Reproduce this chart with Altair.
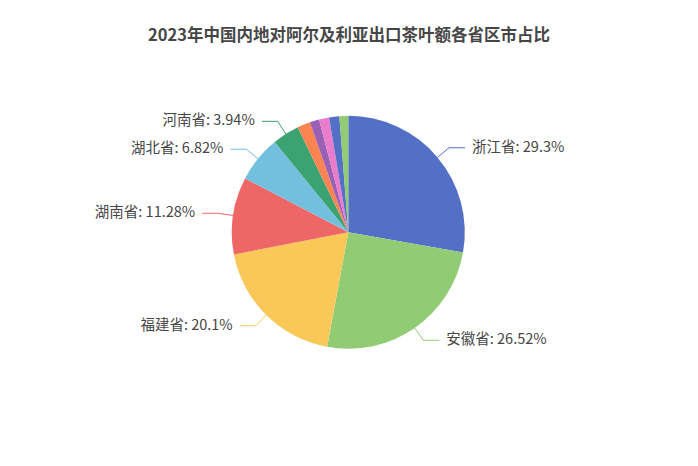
import altair as alt
import pandas as pd

title_text = "2023年中国内地对阿尔及利亚出口茶叶额各省区市占比"
names = ["浙江省", "安徽省", "福建省", "湖南省", "湖北省", "河南省",
         "其他省区市1", "其他省区市2", "其他省区市3", "其他省区市4", "其他省区市5"]
values = [29.3, 26.52, 20.1, 11.28, 6.82, 3.94, 1.9, 1.38, 1.47, 1.5, 1.29]
colors = ["#5470c6", "#91cc75", "#fac858", "#ee6666", "#73c0de", "#3ba272",
          "#fc8452", "#9a60b4", "#ea7ccc", "#5470c6", "#91cc75"]
order = list(range(len(names)))

W, H = 682, 400
CX, CY, R = 340.3, 174.3, 116.5
L1, L2, GAP = 15, 16, 7
FONT = "Noto Sans CJK SC"

df = pd.DataFrame({"name": names, "value": values, "idx": order})
base = alt.Chart(df)

xs = alt.Scale(domain=[0, W], range=[0, W], nice=False, zero=False)
ys = alt.Scale(domain=[0, H], range=[0, H], nice=False, zero=False)
cscale = alt.Scale(domain=names, range=colors)

pie = base.mark_arc(outerRadius=R).encode(
    theta=alt.Theta("value:Q", stack=True),
    order=alt.Order("idx:Q"),
    color=alt.Color("name:N", scale=cscale, legend=None),
    x=alt.value(CX),
    y=alt.value(CY),
)

lab = (
    base.transform_joinaggregate(total="sum(value)")
    .transform_window(cum="sum(value)", sort=[alt.SortField("idx")], frame=[None, 0])
    .transform_calculate(a="(datum.cum - datum.value/2)/datum.total*2*PI")
    .transform_calculate(s="sin(datum.a)")
    .transform_calculate(c="cos(datum.a)")
    .transform_calculate(x1=f"{CX} + {R}*datum.s")
    .transform_calculate(y1=f"{CY} - {R}*datum.c")
    .transform_calculate(x2=f"{CX} + {R + L1}*datum.s")
    .transform_calculate(y2=f"{CY} - {R + L1}*datum.c")
    .transform_calculate(side="datum.s >= 0 ? 1 : -1")
    .transform_calculate(x3=f"datum.x2 + datum.side*{L2}")
    .transform_calculate(tx=f"datum.x2 + datum.side*{L2 + GAP}")
    .transform_calculate(label="datum.name + ': ' + datum.value + '%'")
    .transform_filter("datum.value >= 3")
)

seg1 = lab.mark_rule(strokeWidth=1).encode(
    x=alt.X("x1:Q", scale=xs, axis=None),
    y=alt.Y("y1:Q", scale=ys, axis=None),
    x2="x2:Q",
    y2="y2:Q",
    color=alt.Color("name:N", scale=cscale, legend=None),
)
seg2 = lab.mark_rule(strokeWidth=1).encode(
    x=alt.X("x2:Q", scale=xs, axis=None),
    y=alt.Y("y2:Q", scale=ys, axis=None),
    x2="x3:Q",
    y2="y2:Q",
    color=alt.Color("name:N", scale=cscale, legend=None),
)
txt_r = lab.transform_filter("datum.side > 0").mark_text(
    align="left", baseline="middle", fontSize=14.5, color="#464646", font=FONT
).encode(
    x=alt.X("tx:Q", scale=xs, axis=None),
    y=alt.Y("y2:Q", scale=ys, axis=None),
    text="label:N",
)
txt_l = lab.transform_filter("datum.side < 0").mark_text(
    align="right", baseline="middle", fontSize=14.5, color="#464646", font=FONT
).encode(
    x=alt.X("tx:Q", scale=xs, axis=None),
    y=alt.Y("y2:Q", scale=ys, axis=None),
    text="label:N",
)

chart = (
    alt.layer(pie, seg1, seg2, txt_r, txt_l)
    .properties(
        width=W,
        height=H,
        autosize=alt.AutoSizeParams(type="none"),
        padding={"left": 0, "top": 50, "right": 0, "bottom": 0},
        title=alt.Title(title_text, fontSize=16.5, fontWeight="bold", color="#464646",
                        anchor="middle", offset=14, font=FONT),
        background="white",
    )
    .configure_view(stroke=None)
)

chart.save("out.html", embed_options={"renderer": "svg", "actions": False})
